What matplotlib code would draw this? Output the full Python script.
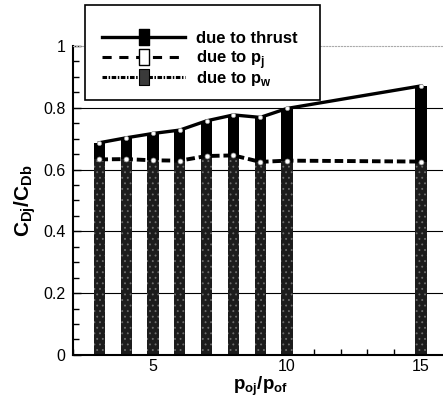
import matplotlib
matplotlib.use("Agg")
import matplotlib.pyplot as plt
from matplotlib.path import Path
from matplotlib.lines import Line2D
from matplotlib.patches import Rectangle
import numpy as np

plt.rcParams['font.family'] = ['Liberation Sans', 'DejaVu Sans']
plt.rcParams['mathtext.fontset'] = 'custom'
plt.rcParams['mathtext.rm'] = 'Liberation Sans'
plt.rcParams['mathtext.bf'] = 'Liberation Sans:bold'
plt.rcParams['hatch.linewidth'] = 0.6

# pressure ratio p_oj/p_of and drag ratio contributions
pressure_ratio = [3, 4, 5, 6, 7, 8, 9, 10, 15]
cd_thrust = [0.687, 0.703, 0.717, 0.728, 0.758, 0.777, 0.769, 0.798, 0.871]
cd_pj = [0.633, 0.634, 0.630, 0.629, 0.644, 0.646, 0.625, 0.629, 0.626]

x = np.array(pressure_ratio)
top = np.array(cd_thrust)
mid = np.array(cd_pj)

W, H = 443, 397
fig = plt.figure(figsize=(W / 100, H / 100), dpi=100)
ax = fig.add_axes([0.164, 0.106, 0.847, 0.778])

# horizontal grid lines behind the bars
for yg in [0.2, 0.4, 0.6, 0.8]:
    ax.axhline(yg, color='black', lw=0.8, zorder=0)

# stacked bars: speckled lower part, solid black upper part
ax.bar(x, mid, width=0.42, color='#1c1c1c', edgecolor='#6e6e6e', hatch='...',
       linewidth=0, zorder=2)
ax.bar(x, top - mid, bottom=mid, width=0.42, color='black', linewidth=0, zorder=2)

ax.plot(x, top, color='black', lw=2.4, zorder=3)
ax.plot(x, mid, color='black', lw=2.8, ls=(0, (2.2, 1.0)), zorder=3)
ax.plot(x, top, ls='none', marker='o', ms=3, mfc='white', mec='#999999', mew=0.5, zorder=4)
ax.plot(x, mid, ls='none', marker='o', ms=3.5, mfc='white', mec='#999999', mew=0.5, zorder=4)

ax.set_xlim(2, 16)
ax.set_ylim(0, 1)
ax.set_xticks([5, 10, 15])
ax.set_xticks(np.arange(2, 16, 1), minor=True)
ax.set_yticks([0, 0.2, 0.4, 0.6, 0.8, 1])
ax.set_yticklabels(['0', '0.2', '0.4', '0.6', '0.8', '1'])
ax.set_yticks(np.arange(0, 1.001, 0.05), minor=True)
ax.tick_params(which='both', direction='in', labelsize=11.5, width=1)
ax.tick_params(which='major', length=6)
ax.tick_params(which='minor', length=4)
ax.tick_params(axis='y', pad=5)
ax.tick_params(axis='x', pad=3)
ax.tick_params(top=False, right=False, which='both')

for s in ['left', 'bottom']:
    ax.spines[s].set_linewidth(1.5)
ax.spines['right'].set_visible(False)
ax.spines['top'].set_color('#aaaaaa')
ax.spines['top'].set_linestyle(':')

ax.set_xlabel(r'$\mathbf{p}_{\mathbf{oj}}\mathbf{/p}_{\mathbf{of}}$', fontsize=13.5, labelpad=0)
ax.set_ylabel(r'$\mathbf{C}_{\mathbf{Dj}}\mathbf{/C}_{\mathbf{Db}}$', fontsize=15, labelpad=4)


# legend box drawn in figure pixels (origin top-left)
def fx(px):
    return px / W


def fy(py):
    return 1 - py / H


fig.add_artist(Rectangle((fx(85), fy(100)), fx(320) - fx(85), fy(5) - fy(100),
                         transform=fig.transFigure, facecolor='white', edgecolor='black',
                         lw=1.2, zorder=5))

# tall rectangle used as legend marker
rect = Path([(-0.32, -0.5), (0.32, -0.5), (0.32, 0.5), (-0.32, 0.5), (-0.32, -0.5)],
            [Path.MOVETO, Path.LINETO, Path.LINETO, Path.LINETO, Path.CLOSEPOLY])
legend_rows = [
    ('due to thrust', '-', 2.4, 'black', 1.0),
    (r'due to p$_\mathbf{j}$', (0, (3, 2.5)), 2.2, 'white', 1.0),
    (r'due to p$_\mathbf{w}$', (0, (1.5, 0.5, 0.5, 0.5)), 2.2, '#3a3a3a', 0.8),
]
for i, (label, ls, lw, fc, mew) in enumerate(legend_rows):
    py = 37 + 20 * i
    fig.add_artist(Line2D([fx(102), fx(185)], [fy(py), fy(py)], transform=fig.transFigure,
                          color='black', lw=lw, ls=ls, zorder=6))
    fig.add_artist(Line2D([fx(143.5)], [fy(py)], transform=fig.transFigure, ls='none',
                          marker=rect, ms=11.5, mfc=fc, mec='black', mew=mew, zorder=7))
    fig.text(fx(196), fy(py + 6), label, fontsize=12, fontweight='bold',
             va='baseline', ha='left', zorder=7)

fig.savefig('out.png', dpi=100)
